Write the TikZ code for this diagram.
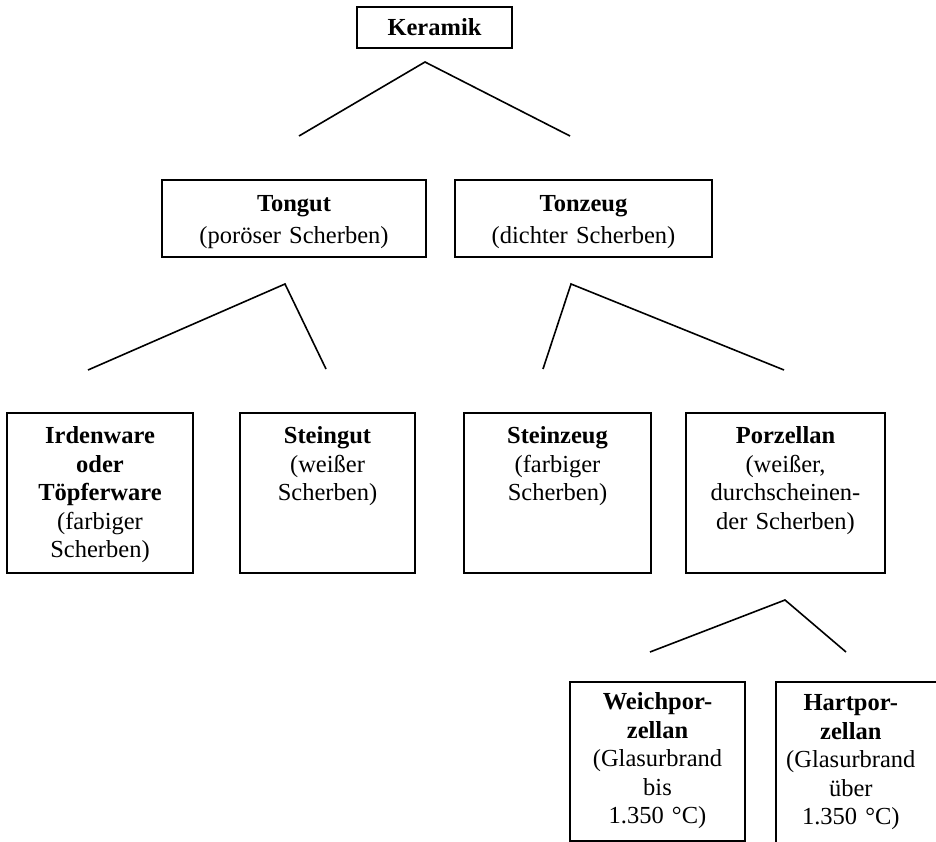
\documentclass[tikz,border=0pt]{standalone}
\usepackage{fontspec}
\setmainfont{Liberation Serif}
\usepackage{tikz}
\usetikzlibrary{positioning}

\begin{document}
\begin{tikzpicture}[x=1pt, y=-1pt,
                rahmen/.style={draw=black, line width=1.6pt},
                kopf/.style={rahmen, rectangle, minimum width=155pt, minimum height=41pt, font=\fontsize{24.5}{28.5}\selectfont\bfseries},
                gruppe/.style={rahmen, rectangle, anchor=north, align=center, inner xsep=2pt, inner ysep=0pt, text height=32pt, text depth=45pt, font=\fontsize{24.5}{32}\selectfont},
                ware/.style={rahmen, rectangle, anchor=north, align=center, inner xsep=2pt, inner ysep=0pt, text height=31pt, text depth=129pt, font=\fontsize{24.5}{28.5}\selectfont},
                unterware/.style={ware, text height=28pt, text depth=131pt},
                ast/.style={line width=1.6pt, line join=miter}
            ]
            \useasboundingbox (0,0) rectangle (936,842);
            \clip (0,0) rectangle (936,842);

            % Knoten
            \node[kopf] (keramik) at (434.5,27.5) {Keramik};
            \node[gruppe, text width=260pt] (tongut) at (294,179) {\textbf{Tongut}\\(poröser Scherben)};
            \node[gruppe, text width=253pt] (tonzeug) at (583.5,179) {\textbf{Tonzeug}\\(dichter Scherben)};

            \node[ware, text width=182pt] (irdenware) at (100,412) {\textbf{Irdenware}\\\textbf{oder}\\\textbf{Töpferware}\\(farbiger\\Scherben)};
            \node[ware, text width=171pt] (steingut) at (327.5,412) {\textbf{Steingut}\\(weißer\\Scherben)};
            \node[ware, text width=183pt] (steinzeug) at (557.5,412) {\textbf{Steinzeug}\\(farbiger\\Scherben)};
            \node[ware, text width=195pt] (porzellan) at (785.5,412) {\textbf{Porzellan}\\(weißer,\\durchscheinen-\\der Scherben)};

            \node[unterware, text width=171pt] (weich) at (657.5,681) {\textbf{Weichpor-}\\\textbf{zellan}\\(Glasurbrand\\bis\\1.350 °C)};
            \node[unterware, draw=none, text width=144pt, anchor=north west] (hart) at (776,682) {\textbf{Hartpor-}\\\textbf{zellan}\\(Glasurbrand\\über\\1.350 °C)};
            \draw[rahmen] ([xshift=40pt]hart.north east) -- (hart.north west) -- (hart.south west) -- ([xshift=40pt]hart.south east);

            % Verzweigungen
            \coordinate (k0) at (425,62);
            \coordinate (k1) at (299,136);
            \coordinate (k2) at (570,136);
            \coordinate (t0) at (285,284);
            \coordinate (t1) at (88,370);
            \coordinate (t2) at (326,369);
            \coordinate (z0) at (571,284);
            \coordinate (z1) at (543,369);
            \coordinate (z2) at (784,370);
            \coordinate (p0) at (785,600);
            \coordinate (p1) at (650,652);
            \coordinate (p2) at (846,652);

            % Kanten
            \draw[ast] (k1) -- (k0) -- (k2);
            \draw[ast] (t1) -- (t0) -- (t2);
            \draw[ast] (z1) -- (z0) -- (z2);
            \draw[ast] (p1) -- (p0) -- (p2);

        \end{tikzpicture}
\end{document}
